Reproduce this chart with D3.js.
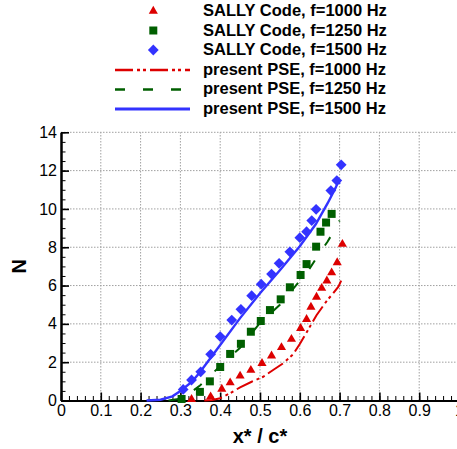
<!DOCTYPE html>
<html>
<head>
<meta charset="utf-8">
<script src="https://cdn.jsdelivr.net/npm/d3@7"></script>
<style>
  html, body { margin: 0; padding: 0; background: #fff; }
  svg { display: block; }
  text { font-family: "Liberation Sans", Arial, Helvetica, sans-serif; }
</style>
</head>
<body>
<svg id="chart" width="457" height="449"></svg>
<script>
// ---------------- data ----------------
const xTicks = [0, 0.1, 0.2, 0.3, 0.4, 0.5, 0.6, 0.7, 0.8, 0.9, 1];
const yTicks = [0, 2, 4, 6, 8, 10, 12, 14];

// SALLY Code (symbols)
const sally1000 = [
  [0.328, 0.06], [0.376, 0.20], [0.404, 0.60], [0.425, 0.93], [0.450, 1.28],
  [0.477, 1.58], [0.505, 1.94], [0.529, 2.33], [0.554, 2.77], [0.579, 3.20],
  [0.602, 3.77], [0.617, 4.24], [0.628, 4.88], [0.642, 5.40], [0.655, 5.86],
  [0.668, 6.25], [0.680, 6.67], [0.694, 7.20], [0.707, 8.16]
];
const sally1250 = [
  [0.303, 0.08], [0.349, 0.45], [0.374, 1.00], [0.400, 1.75], [0.425, 2.43],
  [0.452, 2.96], [0.477, 3.59], [0.502, 4.15], [0.525, 4.72], [0.552, 5.28],
  [0.575, 5.91], [0.602, 6.55], [0.617, 7.12], [0.641, 8.03], [0.652, 8.81],
  [0.666, 9.29], [0.680, 9.74]
];
const sally1500 = [
  [0.307, 0.58], [0.328, 1.07], [0.351, 1.50], [0.376, 2.41], [0.400, 3.34],
  [0.429, 4.20], [0.452, 4.76], [0.479, 5.47], [0.503, 6.07], [0.529, 6.60],
  [0.548, 7.16], [0.575, 7.76], [0.600, 8.50], [0.617, 8.81], [0.630, 9.39],
  [0.641, 9.98], [0.678, 10.96], [0.693, 11.48], [0.704, 12.30]
];

// present PSE (lines)
const pse1000 = [
  [0.360, 0.00], [0.380, 0.03], [0.400, 0.12], [0.425, 0.38], [0.450, 0.69],
  [0.479, 0.98], [0.508, 1.24], [0.533, 1.59], [0.558, 1.94], [0.583, 2.40],
  [0.600, 2.95], [0.617, 3.55], [0.642, 4.45], [0.668, 5.21], [0.684, 5.60],
  [0.697, 5.94], [0.704, 6.26]
];
const pse1250 = [
  [0.270, 0.00], [0.300, 0.10], [0.325, 0.40], [0.350, 0.80], [0.375, 1.30],
  [0.400, 1.80], [0.450, 2.75], [0.500, 4.05], [0.550, 5.00], [0.600, 6.25],
  [0.625, 6.90], [0.650, 7.70], [0.670, 8.30], [0.690, 9.00], [0.700, 9.40]
];
const pse1500 = [
  [0.215, 0.00], [0.250, 0.04], [0.280, 0.22], [0.300, 0.50], [0.330, 1.00],
  [0.350, 1.50], [0.400, 2.90], [0.450, 4.30], [0.500, 5.60], [0.550, 6.80],
  [0.600, 8.05], [0.640, 9.20], [0.670, 10.30], [0.690, 11.10], [0.697, 11.45],
  [0.700, 11.30]
];

const legendLabels = [
  "SALLY Code, f=1000 Hz",
  "SALLY Code, f=1250 Hz",
  "SALLY Code, f=1500 Hz",
  "present PSE, f=1000 Hz",
  "present PSE, f=1250 Hz",
  "present PSE, f=1500 Hz"
];

// ---------------- drawing ----------------
const RED = "#dd0000", GREEN = "#005f00", BLUE = "#3333ff";
const svg = d3.select("#chart");
const x = d3.scaleLinear().domain([0, 1]).range([61, 459]);
const y = d3.scaleLinear().domain([0, 14]).range([400.5, 132.3]);

// grid
const grid = svg.append("g");
grid.selectAll("line.v").data(xTicks.slice(1)).join("line")
  .attr("x1", d => x(d)).attr("x2", d => x(d))
  .attr("y1", y(0)).attr("y2", y(14))
  .attr("stroke", "#a0a0a0").attr("stroke-width", 1).attr("stroke-dasharray", "1.5,1.5");
grid.selectAll("line.h").data(yTicks.slice(1)).join("line")
  .attr("x1", x(0)).attr("x2", x(1))
  .attr("y1", d => y(d)).attr("y2", d => y(d))
  .attr("stroke", "#a0a0a0").attr("stroke-width", 1).attr("stroke-dasharray", "1.5,1.5");

// axes
const xMinor = d3.range(0, 51).map(i => i / 50);
const yMinor = d3.range(0, 29).map(i => i / 2);
const fmt = d3.format("~g");

const gxMinor = svg.append("g").attr("transform", `translate(0,${y(0)})`)
  .call(d3.axisBottom(x).tickValues(xMinor).tickSize(-4.5).tickSizeOuter(0).tickFormat(""));
const gyMinor = svg.append("g").attr("transform", `translate(${x(0)},0)`)
  .call(d3.axisLeft(y).tickValues(yMinor).tickSize(-4.5).tickSizeOuter(0).tickFormat(""));
const gx = svg.append("g").attr("transform", `translate(0,${y(0)})`)
  .call(d3.axisBottom(x).tickValues(xTicks).tickSize(-8).tickSizeOuter(0).tickPadding(4).tickFormat(fmt));
const gy = svg.append("g").attr("transform", `translate(${x(0)},0)`)
  .call(d3.axisLeft(y).tickValues(yTicks).tickSize(-8).tickSizeOuter(0).tickPadding(4).tickFormat(fmt));

[gxMinor, gyMinor, gx, gy].forEach(g => {
  g.selectAll(".tick line").attr("stroke", "#000").attr("stroke-width", 1);
  g.select(".domain").attr("stroke", "#000").attr("stroke-width", 2);
});
[gx, gy].forEach(g => {
  g.selectAll(".tick line").attr("stroke-width", 1.6);
  g.selectAll(".tick text").attr("font-size", 16).attr("fill", "#000")
    .attr("font-family", "'Liberation Sans', Arial, sans-serif");
});
gy.selectAll(".tick text").attr("x", -4);

// axis titles
svg.append("text").attr("x", 260).attr("y", 443).attr("text-anchor", "middle")
  .attr("font-size", 20).attr("font-weight", "bold").text("x* / c*");
svg.append("text").attr("transform", `translate(26,${(y(0) + y(14)) / 2}) rotate(-90)`)
  .attr("text-anchor", "middle").attr("font-size", 20).attr("font-weight", "bold").text("N");

// lines
const line = d3.line().x(d => x(d[0])).y(d => y(d[1]));
const lineStyles = [
  { data: pse1000, color: RED, dash: "18,4,3,3,3,4", width: 2 },
  { data: pse1250, color: GREEN, dash: "10,18", width: 2 },
  { data: pse1500, color: BLUE, dash: null, width: 2.4 }
];
lineStyles.forEach(s => {
  svg.append("path").datum(s.data).attr("d", line)
    .attr("fill", "none").attr("stroke", s.color).attr("stroke-width", s.width)
    .attr("stroke-dasharray", s.dash);
});

// markers
const tri = d3.symbol().type(d3.symbolTriangle).size(36)();
const sq = d3.symbol().type(d3.symbolSquare).size(64)();
const dia = d3.symbol().type(d3.symbolSquare).size(58)();
const markerSets = [
  { data: sally1000, color: RED, path: tri, rot: 0 },
  { data: sally1250, color: GREEN, path: sq, rot: 0 },
  { data: sally1500, color: BLUE, path: dia, rot: 45 }
];
markerSets.forEach(m => {
  svg.append("g").selectAll("path").data(m.data).join("path")
    .attr("d", m.path).attr("fill", m.color)
    .attr("transform", d => `translate(${x(d[0])},${y(d[1])}) rotate(${m.rot})`);
});

// legend
const lg = svg.append("g");
const baselines = legendLabels.map((_, i) => 16 + i * 19.5);
lg.selectAll("text").data(legendLabels).join("text")
  .attr("x", 203).attr("y", (d, i) => baselines[i])
  .attr("font-size", 16.5).attr("font-weight", "bold").attr("fill", "#000")
  .text(d => d);
markerSets.forEach((m, i) => {
  lg.append("path").attr("d", m.path).attr("fill", m.color)
    .attr("transform", `translate(153.3,${baselines[i] - 5}) rotate(${m.rot})`);
});
lineStyles.forEach((s, i) => {
  const yy = baselines[i + 3] - 4.5;
  lg.append("line").attr("x1", 115).attr("x2", 190).attr("y1", yy).attr("y2", yy)
    .attr("stroke", s.color).attr("stroke-width", s.width + 0.4)
    .attr("stroke-dasharray", s.dash);
});
</script>
</body>
</html>
